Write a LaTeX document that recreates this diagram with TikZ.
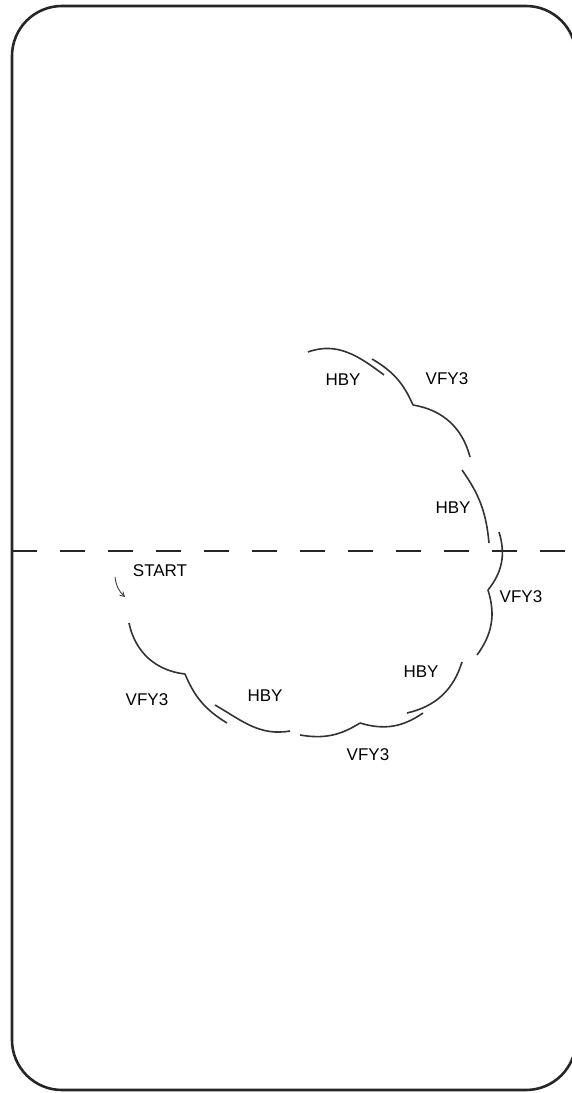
\documentclass[tikz,border=0pt]{standalone}
\usepackage{fontspec}
\setmainfont{Liberation Sans}
\usetikzlibrary{arrows, positioning}

\begin{document}
\begin{tikzpicture}[x=1pt, y=1pt, >=angle 60]
	\tikzstyle{word} = [font=\fontsize{17}{19}\selectfont, text=black, inner sep=0pt]
	\tikzstyle{curl} = [draw=black!80, line width=1.6pt]

	\useasboundingbox (0,0) rectangle (571,1093);

	% frame and dashed line
	\draw[line width=2.6pt, black!85, rounded corners=50pt] (12,3) rectangle (576,1087);
	\draw[line width=2.4pt, black!85, dash pattern=on 25pt off 23pt] (12,542) -- (571,542);

	% ends of the arcs
	\coordinate (a1) at (308,741);
	\coordinate (b1) at (384,718);
	\coordinate (a2) at (372,734);
	\coordinate (c1) at (413,688);
	\coordinate (b3) at (470,636);
	\coordinate (a4) at (462,623);
	\coordinate (b4) at (489,550);
	\coordinate (a5) at (499,561);
	\coordinate (c2) at (488,503);
	\coordinate (b6) at (477,438);
	\coordinate (a7) at (462,431);
	\coordinate (b7) at (407,380);
	\coordinate (a8) at (423,380);
	\coordinate (c3) at (360,370);
	\coordinate (b9) at (300,358);
	\coordinate (a10) at (215,388);
	\coordinate (b10) at (290,362);
	\coordinate (c4) at (185,419);
	\coordinate (b11) at (227,370);
	\coordinate (a12) at (129,470);
	\coordinate (s1) at (115,516);
	\coordinate (s2) at (125,496);

	\path[curl]
		(a1) edge[out=20, in=143] (b1)
		(a2) edge[bend left=18] (c1)
		(c1) edge[bend left=33] (b3)
		(a4) edge[bend left=15] (b4)
		(a5) edge[bend left=28] (c2)
		(c2) edge[bend left=27] (b6)
		(a7) edge[bend left=30] (b7)
		(a8) edge[bend left=26] (c3)
		(c3) edge[bend left=21] (b9)
		(a10) edge[out=-30, in=190] (b10)
		(c4) edge[bend right=18] (b11)
		(a12) edge[bend right=36] (c4)
	;
	\draw[->, black!75, line width=0.9pt] (s1) to[bend right=20] (s2);

	% texts
	\node[word] (start) at (160,522) {START};
	\node[word] (hby1) at (343,713) {HBY};
	\node[word] (vfy1) at (447,714) {VFY3};
	\node[word] (hby2) at (453,585) {HBY};
	\node[word] (vfy2) at (521,496) {VFY3};
	\node[word] (hby3) at (421,421) {HBY};
	\node[word] (hby4) at (265,397) {HBY};
	\node[word] (vfy3) at (147,393) {VFY3};
	\node[word] (vfy4) at (368,338) {VFY3};
\end{tikzpicture}
\end{document}
